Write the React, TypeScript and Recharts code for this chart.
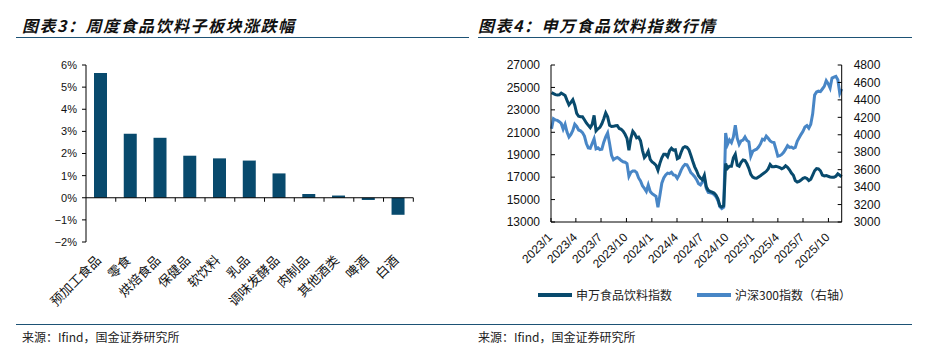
import { Bar, BarChart, Line, LineChart, ReferenceLine, XAxis, YAxis } from 'recharts'

// 图表3: weekly sector change (%)
const sectors = ['预加工食品', '零食', '烘焙食品', '保健品', '软饮料', '乳品', '调味发酵品', '肉制品', '其他酒类', '啤酒', '白酒']
const weeklyChange = [5.64, 2.89, 2.71, 1.9, 1.78, 1.68, 1.1, 0.17, 0.1, -0.1, -0.77]
const pctTicks = [-2, -1, 0, 1, 2, 3, 4, 5, 6]

// 图表4: weekly closes from 2023-01-03
const DAY = 86400000
const firstWeek = Date.UTC(2023, 0, 3)
const swIndex = [
  24540, 24450, 24360, 24330, 24340, 24500, 24390, 24280, 23850, 23450,
  23670, 23910, 23410, 22690, 22430, 22380, 22380, 22120, 21830, 21620,
  21420, 21710, 22510, 21130, 21310, 21440, 21760, 22200, 22720, 22380,
  21620, 21510, 21530, 21580, 21600, 21340, 21270, 21090, 20820, 20460,
  19390, 20460, 21090, 20870, 20510, 20570, 20240, 19390, 18740, 18950,
  19300, 18590, 18350, 18230, 18060, 17610, 18230, 18720, 19040, 19040,
  18830, 19350, 19570, 19410, 19440, 18640, 18740, 19220, 19620, 19720,
  19660, 19440, 18950, 18410, 17920, 17570, 17120, 16900, 16760, 17170,
  16140, 15830, 15740, 15670, 15580, 15400, 15070, 14450, 14340, 14450,
  18210, 17790, 17970, 17970, 18720, 19040, 18060, 17970, 18320, 18530,
  18480, 18190, 17790, 17250, 17010, 16920, 16900, 17020, 17130, 17270,
  17380, 17520, 17740, 18120, 17920, 17920, 17960, 17920, 17860, 17740,
  17830, 18010, 17880, 17660, 17360, 17170, 16690, 16570, 16630, 16750,
  16890, 16960, 16880, 16690, 16810, 17190, 17570, 17760, 17740, 17570,
  17180, 17110, 17150, 17080, 17020, 17000, 17000, 17080, 17300, 17170, 17040,
]
const hs300 = [
  4070, 4185, 4170, 4165, 4150, 4130, 4065, 4120, 4030, 3975,
  4005, 4050, 4120, 4095, 4055, 4045, 4025, 3985, 3900, 3850,
  3845, 3900, 3955, 3840, 3850, 3830, 3835, 3915, 3975, 4020,
  3900, 3765, 3715, 3730, 3740, 3725, 3705, 3690, 3685, 3670,
  3525, 3570, 3585, 3585, 3565, 3505, 3470, 3415, 3385, 3350,
  3425, 3350, 3325, 3310, 3295, 3170, 3305, 3445, 3505, 3540,
  3560, 3555, 3570, 3540, 3535, 3500, 3540, 3595, 3635, 3660,
  3655, 3615, 3565, 3545, 3520, 3485, 3440, 3425, 3460, 3500,
  3385, 3340, 3335, 3330, 3315, 3290, 3245, 3175, 3155, 3170,
  4020, 3890, 3940, 3910, 3975, 4110, 3960, 3890, 3930, 3940,
  3975, 3935, 3920, 3755, 3810, 3825, 3835, 3860, 3895, 3950,
  3940, 3985, 3960, 3930, 3915, 3910, 3835, 3755, 3760, 3775,
  3800, 3835, 3875, 3855, 3860, 3845, 3855, 3925, 3965, 4005,
  4040, 4090, 4105, 4075, 4120, 4240, 4455, 4490, 4500, 4495,
  4525, 4555, 4620, 4585, 4535, 4650, 4660, 4670, 4630, 4475, 4525,
]
const quarterLabels = ['2023/1', '2023/4', '2023/7', '2023/10', '2024/1', '2024/4', '2024/7', '2024/10', '2025/1', '2025/4', '2025/7', '2025/10']
const leftTicks = [13000, 15000, 17000, 19000, 21000, 23000, 25000, 27000]
const rightTicks = [3000, 3200, 3400, 3600, 3800, 4000, 4200, 4400, 4600, 4800]

const DARK = '#084a6d'
const LIGHT = '#4886c6'
const RULE = '#1d5275'
const numFont = '"Liberation Sans", Arial, sans-serif'
const cjkFont = '"Noto Sans CJK SC", sans-serif'

const barData = sectors.map((name, i) => ({ name, value: weeklyChange[i] }))
const lineData = swIndex.map((sw, i) => ({ t: firstWeek + i * 7 * DAY, sw, hs: hs300[i] }))
const quarterTicks = quarterLabels.map((l) => {
  const [y, m] = l.split('/').map(Number)
  return Date.UTC(y, m - 1, 1)
})
const tickName = (t: number) => {
  const d = new Date(t)
  return `${d.getUTCFullYear()}/${d.getUTCMonth() + 1}`
}

function SectorTick({ x, y, payload }: any) {
  return (
    <g transform={`translate(${x + 1},${y + 11})`}>
      <text transform="rotate(-45)" textAnchor="end" fontSize={13} fontFamily={cjkFont} fill="#111">
        {payload.value}
      </text>
    </g>
  )
}

function DateTick({ x, y, payload }: any) {
  return (
    <g transform={`translate(${x + 2},${y})`}>
      <text transform="rotate(-45)" textAnchor="end" fontSize={12} fontFamily={numFont} fill="#111">
        {tickName(payload.value)}
      </text>
    </g>
  )
}

// zero line with category separators
function ZeroAxis(props: any) {
  const { x1, x2, y1 } = props
  const step = (x2 - x1) / sectors.length
  return (
    <g>
      <line x1={x1} y1={y1} x2={x2} y2={y1} stroke="#000" strokeWidth={1.2} />
      {sectors.map((s, i) => (
        <line key={s} x1={x1 + step * (i + 1)} x2={x1 + step * (i + 1)} y1={y1} y2={y1 + 4} stroke="#000" />
      ))}
    </g>
  )
}

const abs = (left: number, top: number): React.CSSProperties => ({ position: 'absolute', left, top })

function Rule({ left, top, width }: { left: number; top: number; width: number }) {
  return <div style={{ ...abs(left, top), width, height: 1.5, background: RULE }} />
}

function Title({ left, text }: { left: number; text: string }) {
  return (
    <div
      style={{
        ...abs(left, 14),
        fontFamily: cjkFont,
        fontSize: 16,
        fontWeight: 700,
        fontStyle: 'italic',
        letterSpacing: 1.5,
        lineHeight: '22px',
        whiteSpace: 'nowrap',
        color: '#111',
      }}
    >
      {text}
    </div>
  )
}

function Source({ left }: { left: number }) {
  return (
    <div style={{ ...abs(left, 330), fontFamily: cjkFont, fontSize: 12, lineHeight: '14px', color: '#222', whiteSpace: 'nowrap' }}>
      来源：Ifind，国金证券研究所
    </div>
  )
}

function LegendItem({ left, color, label }: { left: number; color: string; label: string }) {
  return (
    <div style={{ ...abs(left, 287), display: 'flex', alignItems: 'center', whiteSpace: 'nowrap' }}>
      <span style={{ display: 'inline-block', width: 34, height: 4, background: color, marginRight: 4 }} />
      <span style={{ fontFamily: cjkFont, fontSize: 12, lineHeight: '16px', color: '#222' }}>{label}</span>
    </div>
  )
}

export default function App() {
  return (
    <div style={{ position: 'absolute', left: 0, top: 0, width: 941, height: 353, background: '#fff', overflow: 'hidden' }}>
      <Title left={22} text="图表3：周度食品饮料子板块涨跌幅" />
      <Title left={478} text="图表4：申万食品饮料指数行情" />
      <Rule left={16} top={36.5} width={453} />
      <Rule left={478} top={36.5} width={434} />

      <div style={abs(0, 0)}>
        <BarChart width={470} height={322} data={barData} margin={{ top: 65, right: 56.7, left: 46, bottom: 0 }}>
          <XAxis dataKey="name" axisLine={false} tickLine={false} interval={0} height={80} tick={<SectorTick />} />
          <YAxis
            width={40}
            domain={[-2, 6]}
            ticks={pctTicks}
            interval={0}
            axisLine={{ stroke: '#000' }}
            tickLine={{ stroke: '#000' }}
            tickSize={4}
            tickMargin={5}
            tickFormatter={(v: number) => `${v < 0 ? '−' : ''}${Math.abs(v)}%`}
            tick={{ fill: '#111', fontSize: 11, fontFamily: numFont }}
          />
          <Bar dataKey="value" fill={DARK} barSize={13} isAnimationActive={false} />
          <ReferenceLine y={0} shape={<ZeroAxis />} />
        </BarChart>
      </div>

      <div style={abs(470, 0)}>
        <LineChart width={471} height={282} data={lineData} margin={{ top: 65, right: 39.3, left: 21, bottom: 0 }}>
          <XAxis
            dataKey="t"
            type="number"
            domain={[Date.UTC(2023, 0, 1), Date.UTC(2025, 10, 18)]}
            ticks={quarterTicks}
            interval={0}
            height={60}
            axisLine={{ stroke: '#000' }}
            tickLine={{ stroke: '#000' }}
            tickSize={-4}
            tickMargin={20}
            tick={<DateTick />}
          />
          <YAxis
            yAxisId="left"
            width={60}
            domain={[13000, 27000]}
            ticks={leftTicks}
            interval={0}
            axisLine={{ stroke: '#000' }}
            tickLine={{ stroke: '#000' }}
            tickSize={-4}
            tickMargin={15}
            tick={{ fill: '#111', fontSize: 12, fontFamily: numFont }}
          />
          <YAxis
            yAxisId="right"
            orientation="right"
            width={60}
            domain={[3000, 4800]}
            ticks={rightTicks}
            interval={0}
            axisLine={{ stroke: '#000' }}
            tickLine={{ stroke: '#000' }}
            tickSize={-4}
            tickMargin={16}
            tick={{ fill: '#111', fontSize: 12, fontFamily: numFont }}
          />
          <Line yAxisId="right" dataKey="hs" stroke={LIGHT} strokeWidth={3} dot={false} isAnimationActive={false} />
          <Line yAxisId="left" dataKey="sw" stroke={DARK} strokeWidth={3} dot={false} isAnimationActive={false} />
        </LineChart>
      </div>

      <LegendItem left={538} color={DARK} label="申万食品饮料指数" />
      <LegendItem left={697} color={LIGHT} label="沪深300指数（右轴）" />

      <Rule left={16} top={323.5} width={896} />
      <Source left={22} />
      <Source left={478} />
    </div>
  )
}
